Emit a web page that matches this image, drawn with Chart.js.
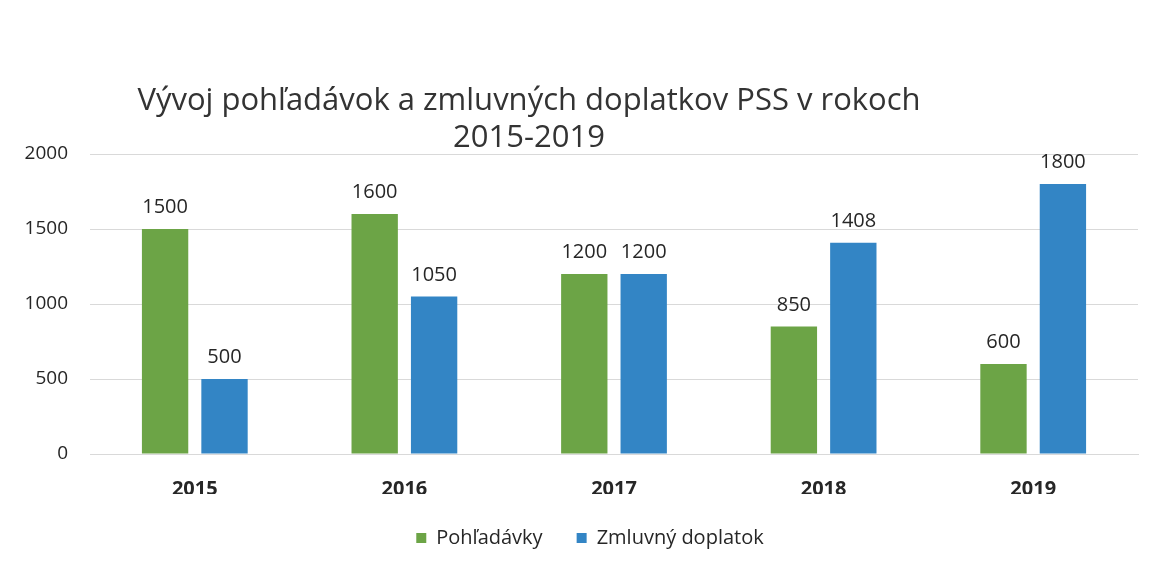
<!DOCTYPE html>
<html>
<head>
<meta charset="utf-8">
<script src="https://cdn.jsdelivr.net/npm/chart.js@4/dist/chart.umd.min.js"></script>
<style>
  html, body { margin: 0; padding: 0; background: #ffffff; }
  #wrap { width: 1156px; height: 567px; position: relative; }
</style>
</head>
<body>
<div id="wrap"><canvas id="c" width="1156" height="567"></canvas></div>
<script>
const categories = ['2015', '2016', '2017', '2018', '2019'];
const seriesNames = ['Pohľadávky', 'Zmluvný doplatok'];
const pohladavky = [1500, 1600, 1200, 850, 600];
const zmluvnyDoplatok = [500, 1050, 1200, 1408, 1800];
const yTicks = [0, 500, 1000, 1500, 2000];
const titleLines = ['Vývoj pohľadávok a zmluvných doplatkov PSS v rokoch', '2015-2019'];

const FONT = "'Open Sans', 'Noto Sans', sans-serif";

const titlePlugin = {
  id: 'floatTitle',
  afterDraw(chart) {
    const ctx = chart.ctx;
    ctx.save();
    ctx.font = '31px ' + FONT;
    ctx.fillStyle = '#333333';
    ctx.textAlign = 'center';
    ctx.textBaseline = 'middle';
    titleLines.forEach((t, i) => ctx.fillText(t, 529, 101 + i * 37));
    ctx.restore();
  }
};

const legendShift = {
  id: 'legendShift',
  afterLayout(chart) {
    const lg = chart.legend;
    if (lg) { lg.left += 21; lg.right += 21; }
  }
};

const valueLabels = {
  id: 'valueLabels',
  afterDatasetsDraw(chart) {
    const ctx = chart.ctx;
    ctx.save();
    ctx.font = '20px ' + FONT;
    ctx.fillStyle = '#262626';
    ctx.textAlign = 'center';
    ctx.textBaseline = 'alphabetic';
    chart.data.datasets.forEach((ds, di) => {
      const meta = chart.getDatasetMeta(di);
      meta.data.forEach((bar, i) => {
        ctx.fillText(String(ds.data[i]), bar.x, bar.y - 16);
      });
    });
    ctx.restore();
  }
};

new Chart(document.getElementById('c'), {
  type: 'bar',
  data: {
    labels: categories,
    datasets: [
      { label: seriesNames[0], data: pohladavky, backgroundColor: '#6ca446', categoryPercentage: 0.567, barPercentage: 0.78 },
      { label: seriesNames[1], data: zmluvnyDoplatok, backgroundColor: '#3385c5', categoryPercentage: 0.567, barPercentage: 0.78 }
    ]
  },
  options: {
    responsive: false,
    animation: false,
    layout: { padding: { top: 154, left: 0, right: 18, bottom: 9 } },
    plugins: {
      title: { display: false },
      tooltip: { enabled: false },
      legend: {
        position: 'bottom',
        labels: {
          boxWidth: 10, boxHeight: 10, padding: 34,
          color: '#262626',
          font: { family: FONT, size: 20 }
        }
      }
    },
    scales: {
      x: {
        afterFit(scale) { scale.height = 40; },
        grid: { display: false, drawTicks: false },
        border: { display: true, color: '#d9d9d9', width: 1 },
        ticks: { padding: 23, color: '#262626', font: { family: FONT, size: 20, weight: 'bold' } }
      },
      y: {
        min: 0, max: 2000,
        afterBuildTicks(scale) { scale.ticks = yTicks.map(v => ({ value: v })); },
        afterFit(scale) { scale.width = 90; },
        grid: { color: '#d9d9d9', lineWidth: 1, drawTicks: false },
        border: { display: false },
        ticks: { padding: 22, color: '#262626', font: { family: FONT, size: 19 }, callback: v => String(v) }
      }
    }
  },
  plugins: [titlePlugin, legendShift, valueLabels]
});
</script>
</body>
</html>
